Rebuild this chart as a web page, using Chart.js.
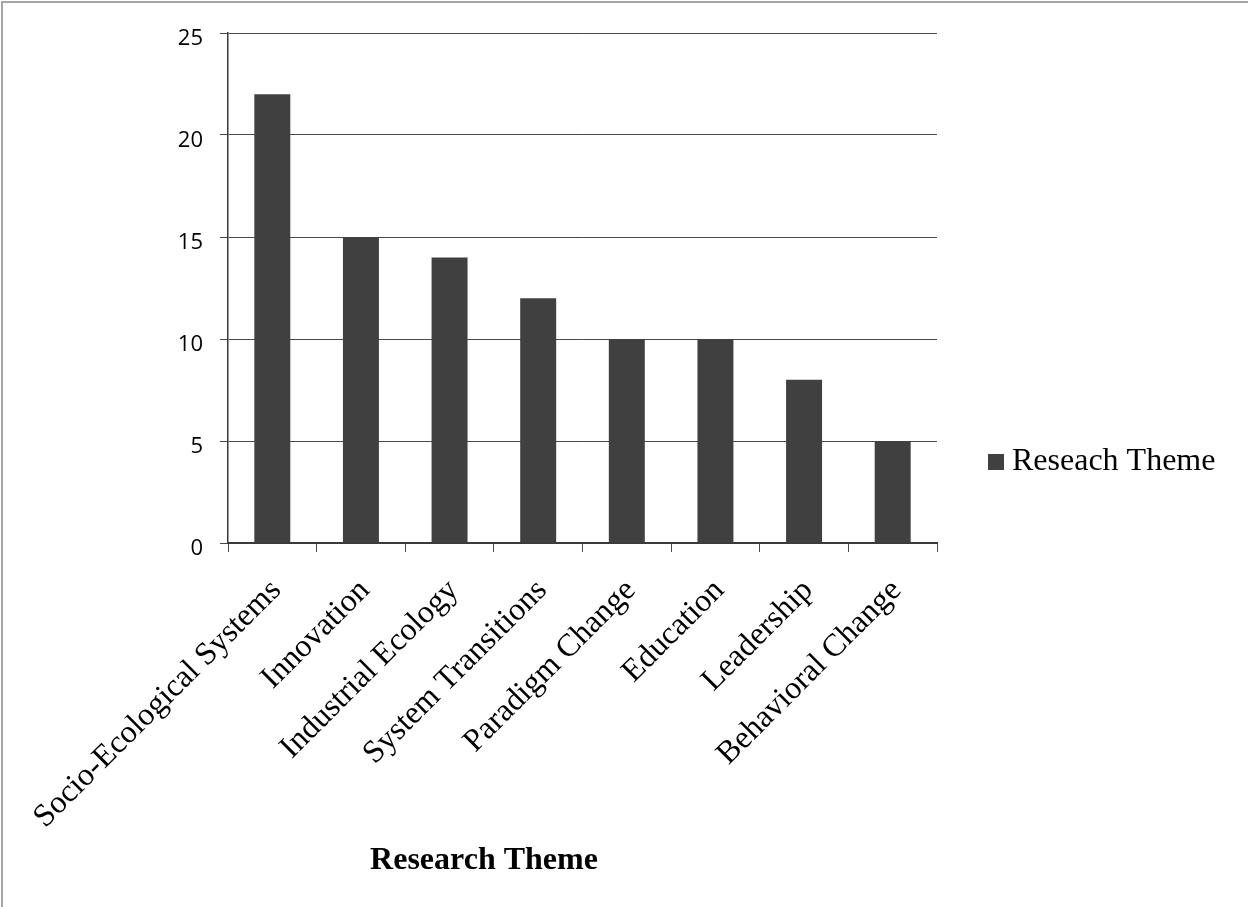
<!DOCTYPE html>
<html>
<head>
<meta charset="utf-8">
<script src="https://cdn.jsdelivr.net/npm/chart.js@4.4.1/dist/chart.umd.min.js"></script>
<style>
  html, body { margin: 0; padding: 0; background: #fff; }
  #wrap { width: 1248px; height: 907px; }
</style>
</head>
<body>
<div id="wrap"><canvas id="chart" width="1248" height="907"></canvas></div>
<script>
const themes = [
  "Socio-Ecological Systems", "Innovation", "Industrial Ecology", "System Transitions",
  "Paradigm Change", "Education", "Leadership", "Behavioral Change",
];
const counts = [22, 15, 14, 12, 10, 10, 8, 5];
const seriesName = "Reseach Theme";
const axisTitle = "Research Theme";
const yTicks = [0, 5, 10, 15, 20, 25];

const BAR = "#404040";
const LINE = "#4a4a4a";
const SERIF = "'Liberation Serif', 'Times New Roman', serif";

// border, side legend and the offset axis title, drawn by hand like the original
const extras = {
  id: "extras",
  beforeDraw(chart) {
    const c = chart.ctx;
    c.save();
    c.fillStyle = "#fff";
    c.fillRect(0, 0, chart.width, chart.height);
    c.fillStyle = "#a6a6a6";
    c.fillRect(1, 1, chart.width, 2);
    c.fillRect(1, 1, 2, chart.height);
    c.restore();
  },
  afterDraw(chart) {
    const c = chart.ctx;
    const a = chart.chartArea;
    c.save();
    // legend
    c.fillStyle = chart.data.datasets[0].backgroundColor;
    c.fillRect(a.right + 51, 454, 16, 16);
    c.fillStyle = "#000";
    c.font = "32px " + SERIF;
    c.textBaseline = "alphabetic";
    c.textAlign = "left";
    c.fillText(chart.data.datasets[0].label, a.right + 75, 470);
    // x title
    c.font = "bold 32px " + SERIF;
    c.textAlign = "center";
    c.fillText(axisTitle, a.left + 256, 869);
    c.restore();
  },
};

new Chart(document.getElementById("chart"), {
  type: "bar",
  data: {
    labels: themes,
    datasets: [{
      label: seriesName,
      data: counts,
      backgroundColor: BAR,
      borderWidth: 0,
      categoryPercentage: 1,
      barPercentage: 0.406,
    }],
  },
  options: {
    responsive: false,
    animation: false,
    devicePixelRatio: 1,
    layout: { padding: { top: 33, left: 0, right: 311, bottom: 0 } },
    scales: {
      x: {
        grid: { drawOnChartArea: false, drawTicks: true, tickLength: 9, color: LINE, lineWidth: 1 },
        border: { color: "#3a3a3a", width: 2 },
        ticks: {
          color: "#000", font: { family: SERIF, size: 32 },
          minRotation: 45, maxRotation: 45, autoSkip: false, padding: 20, labelOffset: 4,
        },
        afterFit: (s) => { s.height = 907 - 543; },
      },
      y: {
        min: 0, max: 25,
        afterBuildTicks: (s) => { s.ticks = yTicks.map(v => ({ value: v })); },
        grid: { color: LINE, lineWidth: 1, tickLength: 8 },
        border: { color: "#3a3a3a", width: 1.5 },
        ticks: {
          color: "#000", font: { family: "'Open Sans', sans-serif", size: 22 },
          padding: 17, labelOffset: 6,
        },
        afterFit: (s) => { s.width = 228; },
      },
    },
    plugins: {
      legend: { display: false },
      tooltip: { enabled: false },
    },
  },
  plugins: [extras],
});
</script>
</body>
</html>
